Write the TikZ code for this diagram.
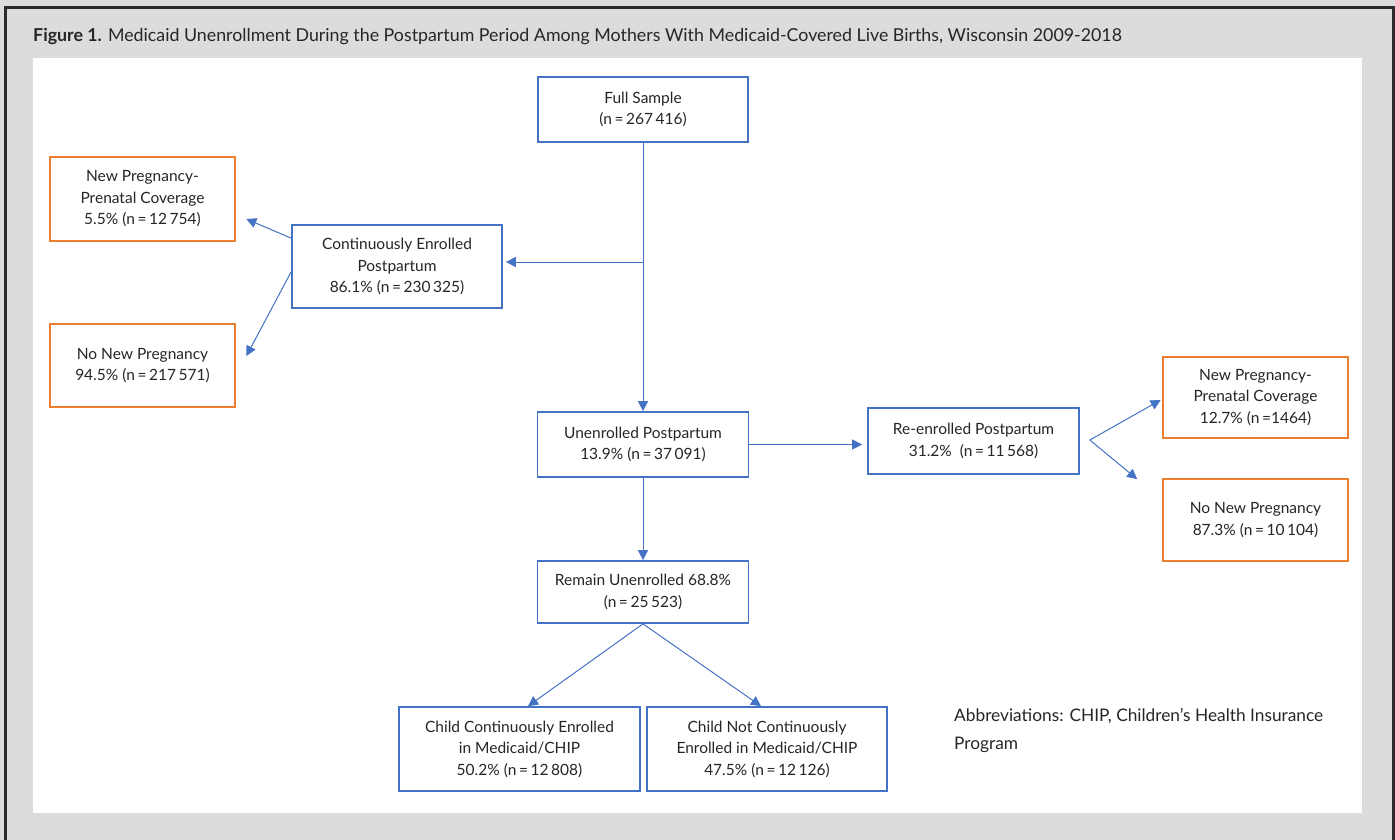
\documentclass[tikz,border=0pt]{standalone}
\usepackage{fontspec}
\setmainfont{Lato}
\usetikzlibrary{arrows.meta,calc}
\definecolor{bgGrey}{HTML}{DBDCDE}
\definecolor{frameDark}{HTML}{2B2A2B}
\definecolor{boxBlue}{HTML}{4472C4}
\definecolor{boxOrange}{HTML}{ED7D31}
\definecolor{txt}{HTML}{262626}
\newcommand{\boxfont}{\fontsize{15.5}{21.5}\selectfont}
\begin{document}
\begin{tikzpicture}[x=1pt,y=-1pt,
  basebox/.style={line width=1.7pt, align=center, inner sep=2pt, text=txt, font=\boxfont},
  bluebox/.style={basebox, draw=boxBlue},
  orangebox/.style={basebox, draw=boxOrange, minimum width=185pt},
  conn/.style={draw=boxBlue, line width=1.0pt, -{Triangle[length=10pt,width=10pt]}}
]
\useasboundingbox (0,0) rectangle (1395,840);
\fill[bgGrey] (0,0) rectangle (1395,840);
\draw[frameDark, line width=2.8pt] (5.5,840) -- (5.5,7.5) -- (1393.5,7.5) -- (1393.5,840);
\fill[white] (33,58) rectangle (1362,813);

\node[anchor=base west, inner sep=0pt, text=txt, font=\fontsize{17.8}{21}\selectfont] (title) at (33,41.5)
  {\textbf{Figure 1.} Medicaid Unenrollment During the Postpartum Period Among Mothers With Medicaid-Covered Live Births, Wisconsin 2009-2018};

\node[bluebox, minimum width=210pt, minimum height=65pt] (full) at (643,109.5) {Full Sample\\(n\,=\,267\,416)};
\node[bluebox, minimum width=210pt, minimum height=83pt] (cont) at (397,266.5) {Continuously Enrolled\\Postpartum\\86.1\% (n\,=\,230\,325)};
\node[orangebox, minimum height=84pt] (onp1) at (142.5,199) {New Pregnancy-\\Prenatal Coverage\\5.5\% (n\,=\,12\,754)};
\node[orangebox, minimum height=83pt] (onn1) at (142.5,365.5) {No New Pregnancy\\94.5\% (n\,=\,217\,571)};
\node[bluebox, minimum width=211pt, minimum height=65pt] (unen) at (643,444.5) {Unenrolled Postpartum\\13.9\% (n\,=\,37\,091)};
\node[bluebox, minimum width=211pt, minimum height=66pt] (reen) at (973.5,441) {Re-enrolled Postpartum\\31.2\%\ \ (n\,=\,11\,568)};
\node[orangebox, minimum height=81pt] (onp2) at (1255.5,397.5) {New Pregnancy-\\Prenatal Coverage\\12.7\% (n\,=1464)};
\node[orangebox, minimum height=82pt] (onn2) at (1255.5,520) {No New Pregnancy\\87.3\% (n\,=\,10\,104)};
\node[bluebox, minimum width=211pt, minimum height=62pt] (remain) at (643,592) {Remain Unenrolled 68.8\%\\(n\,=\,25\,523)};
\node[bluebox, minimum width=241pt, minimum height=84pt] (childc) at (519.5,749) {Child Continuously Enrolled\\in Medicaid/CHIP\\50.2\% (n\,=\,12\,808)};
\node[bluebox, minimum width=240pt, minimum height=84pt] (childn) at (767,749) {Child Not Continuously\\Enrolled in Medicaid/CHIP\\47.5\% (n\,=\,12\,126)};

\node[anchor=north west, inner sep=0pt, align=left, text=txt, font=\fontsize{17.3}{28}\selectfont] (abbr) at (954,708.5)
  {Abbreviations: CHIP, Children’s Health Insurance\\Program};

% connectors
\coordinate (br) at (643,262);
\draw[conn] (full) -- (unen);
\draw[conn, shorten >=3pt] (br) -- (br -| cont.east);
\draw[conn] ($(cont.north west)+(0,14)$) -- ($(onp1.east)+(10.5,20)$);
\draw[conn] ($(cont.west)+(1,3.5)$) -- ($(onn1.east)+(10.5,-9.5)$);
\draw[conn, shorten >=5pt] (unen.east) -- (unen.east -| reen.west);
\draw[conn] ($(reen.east)+(10,-1)$) -- ($(onp2.west)+(-1.5,2.5)$);
\draw[conn] ($(reen.east)+(10,-1)$) -- ($(onn2.north west)+(-25,1)$);
\draw[conn] (unen) -- (remain);
\draw[conn] (remain.south) -- ($(childc.north)+(8.5,0)$);
\draw[conn] (remain.south) -- ($(childn.north)+(-6,0)$);
\end{tikzpicture}
\end{document}
